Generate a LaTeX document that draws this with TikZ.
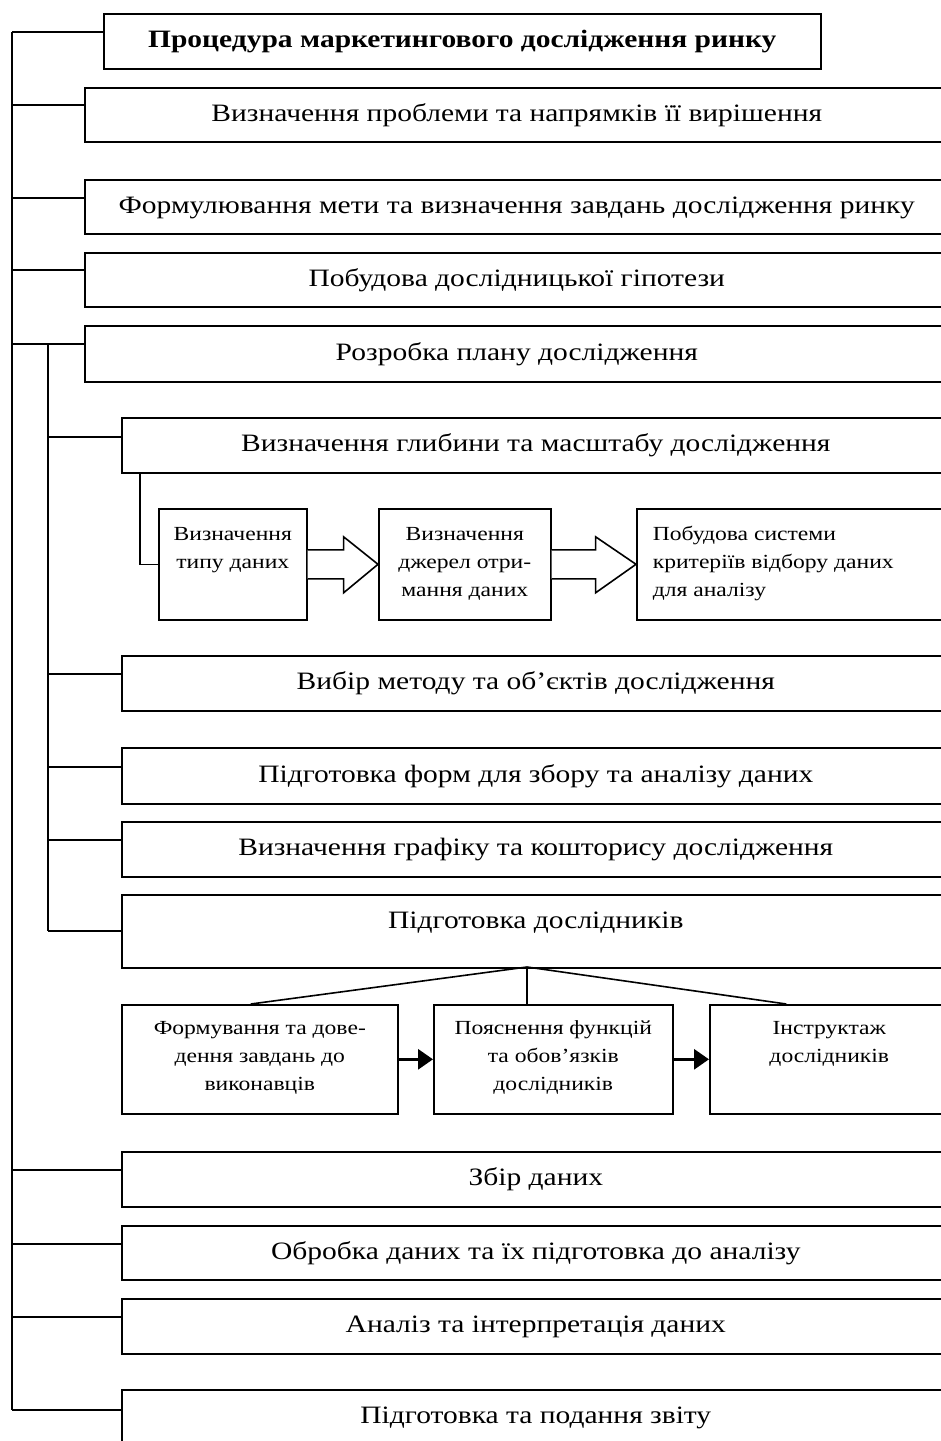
\documentclass[tikz,border=0pt]{standalone}
\usepackage{fontspec}
\setmainfont{Liberation Serif}[FakeStretch=1.18]
\usetikzlibrary{arrows.meta,calc}
\newcommand{\tbx}[4]{\parbox[c][#2][t]{#1}{\centering\rule{0pt}{#3}#4}}
\newcommand{\tbl}[4]{\parbox[c][#2][t]{#1}{\raggedright\leftskip=16pt\rule{0pt}{#3}#4}}
\tikzset{
  ln/.style={line width=1.6pt},
  mbox/.style={draw, line width=1.6pt, anchor=north west, minimum height=55pt,
    inner sep=0pt, text height=18pt, text depth=5pt,
    font=\fontsize{25}{30}\selectfont},
  sbox/.style={draw, line width=1.6pt, anchor=north west, inner sep=0pt,
    font=\fontsize{20}{28}\selectfont},
  barrow/.style={draw, fill=white, line width=1.6pt, line join=miter},
  farrow/.style={line width=3pt, -{Triangle[length=15pt,width=20pt]}}
}
\begin{document}
\begin{tikzpicture}[x=1pt,y=1pt]
\useasboundingbox (0,0) rectangle (941,-1441);
\clip (0,0) rectangle (941,-1441);
\fill[white] (0,0) rectangle (941,-1441);

% top level
\node[mbox, minimum width=717pt, font=\fontsize{25}{30}\selectfont\bfseries] (title) at (103,-13) {Процедура маркетингового дослідження ринку};
\node[mbox, minimum width=864pt, minimum height=54pt] (b1) at (84,-87) {Визначення проблеми та напрямків її вирішення};
\node[mbox, minimum width=864pt, minimum height=54pt] (b2) at (84,-179) {Формулювання мети та визначення завдань дослідження ринку};
\node[mbox, minimum width=864pt, minimum height=54pt] (b3) at (84,-252) {Побудова дослідницької гіпотези};
\node[mbox, minimum width=864pt, minimum height=56pt] (b4) at (84,-325) {Розробка плану дослідження};

% second level
\node[mbox, minimum width=828pt] (c1) at (121,-417) {Визначення глибини та масштабу дослідження};
\node[sbox] (s1) at (158,-508) {\tbx{148pt}{111pt}{32pt}{Визначення\\типу даних}};
\node[sbox] (s2) at (378,-508) {\tbx{172pt}{111pt}{32pt}{Визначення\\джерел отри-\\мання даних}};
\node[sbox] (s3) at (636,-508) {\tbl{330pt}{111pt}{32pt}{Побудова системи\\критеріїв відбору даних\\для аналізу}};
\node[mbox, minimum width=828pt] (c2) at (121,-655) {Вибір методу та об’єктів дослідження};
\node[mbox, minimum width=828pt, minimum height=56pt] (c3) at (121,-747) {Підготовка форм для збору та аналізу даних};
\node[mbox, minimum width=828pt] (c4) at (121,-821) {Визначення графіку та кошторису дослідження};
\node[mbox, minimum width=828pt, minimum height=73pt, text depth=23pt] (c5) at (121,-894) {Підготовка дослідників};
\node[sbox] (d1) at (121,-1004) {\tbx{276pt}{109pt}{30pt}{Формування та дове-\\дення завдань до\\виконавців}};
\node[sbox] (d2) at (433,-1004) {\tbx{239pt}{109pt}{30pt}{Пояснення функцій\\та обов’язків\\дослідників}};
\node[sbox] (d3) at (709,-1004) {\tbx{239pt}{109pt}{30pt}{Інструктаж\\дослідників}};

% lower top-level
\node[mbox, minimum width=828pt] (e1) at (121,-1151) {Збір даних};
\node[mbox, minimum width=828pt, minimum height=54pt] (e2) at (121,-1225) {Обробка даних та їх підготовка до аналізу};
\node[mbox, minimum width=828pt] (e3) at (121,-1298) {Аналіз та інтерпретація даних};
\node[mbox, minimum width=828pt] (e4) at (121,-1389) {Підготовка та подання звіту};

% trunks
\coordinate (T0) at (12,-32);
\coordinate (T1) at (12,-1410);
\coordinate (U0) at (48,-343);
\coordinate (U1) at (48,-931);
\draw[ln] (T0) -- (T1);
\draw[ln] (U0) -- (U1);

% branches of the outer trunk
\draw[ln] (T0) -- (T0 -| title.west);
\draw[ln] ([yshift=10pt]b1.west) -- ++(-72,0);
\draw[ln] ([yshift=9pt]b2.west) -- ++(-72,0);
\draw[ln] ([yshift=10pt]b3.west) -- ++(-72,0);
\draw[ln] ([yshift=10pt]b4.west) -- ++(-72,0);
\draw[ln] ([yshift=9.5pt]e1.west) -- ++(-109,0);
\draw[ln] ([yshift=9pt]e2.west) -- ++(-109,0);
\draw[ln] ([yshift=9.5pt]e3.west) -- ++(-109,0);
\draw[ln] (T1) -- (T1 -| e4.west);

% branches of the inner trunk
\draw[ln] ([yshift=8.5pt]c1.west) -- ++(-73,0);
\draw[ln] ([yshift=9.5pt]c2.west) -- ++(-73,0);
\draw[ln] ([yshift=9pt]c3.west) -- ++(-73,0);
\draw[ln] ([yshift=9.5pt]c4.west) -- ++(-73,0);
\draw[ln] (U1) -- (U1 -| c5.west);

% depth -> data chain
\draw[ln] ([xshift=19pt]c1.south west) |- (s1.west);
\draw[barrow] ([yshift=14.5pt]s1.east) -- ++(36,0) -- ++(0,13) -- (s2.west)
  -- ([xshift=36pt,yshift=-28.5pt]s1.east) -- ++(0,14) -- ([yshift=-14.5pt]s1.east);
\draw[barrow] ([yshift=14.5pt]s2.east) -- ++(44,0) -- ++(0,13) -- (s3.west)
  -- ([xshift=44pt,yshift=-28.5pt]s2.east) -- ++(0,14) -- ([yshift=-14.5pt]s2.east);

% researchers
\coordinate (apex) at (527,-967);
\draw[ln] (apex) -- ([xshift=-9pt]d1.north);
\draw[ln] (apex) -- (apex |- d2.north);
\draw[ln] (apex) -- ([xshift=-43pt]d3.north);
\draw[farrow] (d1.east) -- (d2.west);
\draw[farrow] (d2.east) -- (d3.west);
\end{tikzpicture}
\end{document}
